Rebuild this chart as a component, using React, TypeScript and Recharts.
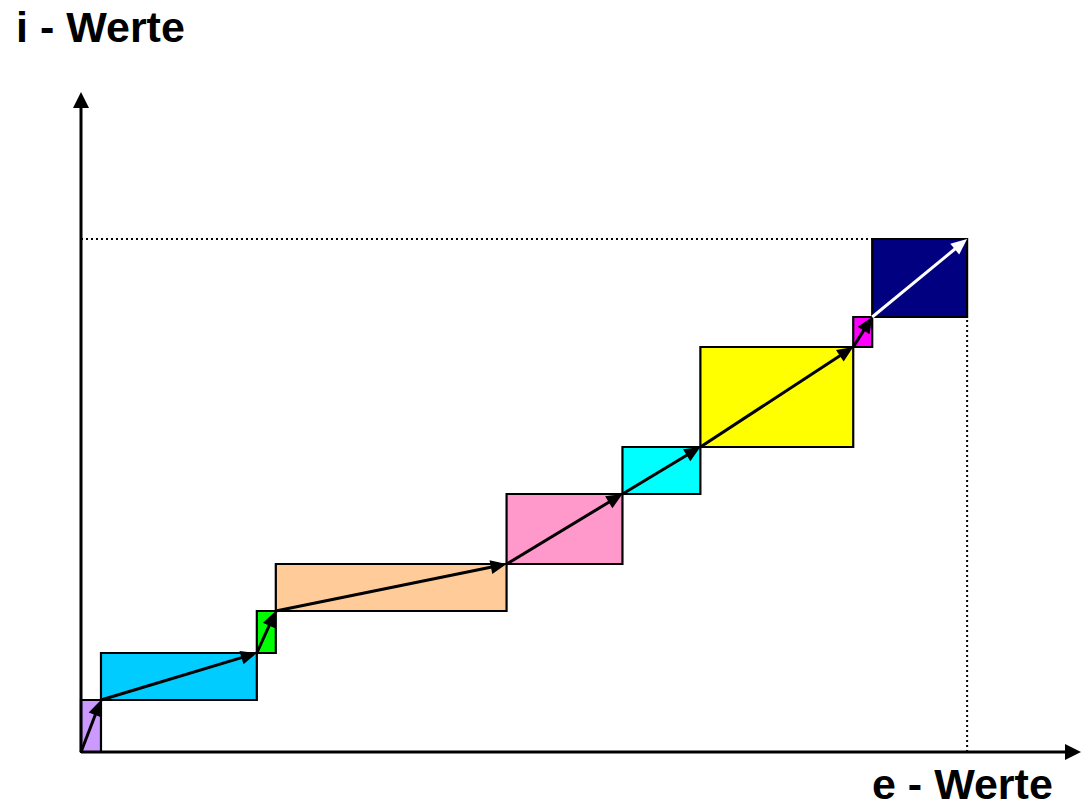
import React from 'react';
import { ComposedChart, XAxis, YAxis, ReferenceArea, ReferenceLine } from 'recharts';

// edges of the staircase boxes along both axes (cumulative)
const eEdges = [0, 20, 176, 195, 426, 542, 620, 773, 792, 887];
const iEdges = [0, 52, 99, 141, 188, 258, 305, 405, 435, 513];
const boxColors = ['#CC99FF', '#00CCFF', '#00FF00', '#FFCC99', '#FF99CC', '#00FFFF', '#FFFF00', '#FF00FF', '#000080'];
const arrowColors = ['#000', '#000', '#000', '#000', '#000', '#000', '#000', '#000', '#FFF'];
const eAxisMax = 1001;
const iAxisMax = 660;
const xLabel = 'e - Werte';
const yLabel = 'i - Werte';

const points = eEdges.map((e, k) => ({ e, i: iEdges[k] }));

const arrowShape = (color: string, width: number, headLen: number, headHalf: number) => (props: any) => {
  const { x1, y1, x2, y2 } = props;
  const dx = x2 - x1;
  const dy = y2 - y1;
  const len = Math.sqrt(dx * dx + dy * dy) || 1;
  const ux = dx / len;
  const uy = dy / len;
  const bx = x2 - ux * headLen;
  const by = y2 - uy * headLen;
  const px = -uy * headHalf;
  const py = ux * headHalf;
  return (
    <g>
      <line x1={x1} y1={y1} x2={bx + ux * 1} y2={by + uy * 1} stroke={color} strokeWidth={width} />
      <polygon points={`${x2},${y2} ${bx + px},${by + py} ${bx - px},${by - py}`} fill={color} />
    </g>
  );
};

const labelStyle: React.CSSProperties = {
  position: 'absolute',
  fontFamily: 'Arial, "Liberation Sans", sans-serif',
  fontWeight: 'bold',
  fontSize: 43,
  lineHeight: 0.9,
  whiteSpace: 'nowrap',
  color: '#000',
};

export default function App() {
  return (
    <div style={{ position: 'absolute', left: 0, top: 0, width: 1085, height: 809, background: '#fff' }}>
      <div style={{ ...labelStyle, left: 16, top: 7.5 }}>{yLabel}</div>
      <div style={{ ...labelStyle, left: 872, top: 765 }}>{xLabel}</div>
      <div style={{ position: 'absolute', left: 0, top: 0 }}>
        <ComposedChart
          width={1085}
          height={809}
          data={points}
          margin={{ top: 92, right: 4, bottom: 57, left: 81 }}
        >
          <XAxis type="number" dataKey="e" domain={[0, eAxisMax]} allowDataOverflow hide />
          <YAxis type="number" dataKey="i" domain={[0, iAxisMax]} allowDataOverflow hide />
          {boxColors.map((c, k) => (
            <ReferenceArea
              key={`box-${k}`}
              x1={eEdges[k]}
              x2={eEdges[k + 1]}
              y1={iEdges[k]}
              y2={iEdges[k + 1]}
              fill={c}
              fillOpacity={1}
              stroke="#000"
              strokeWidth={2.2}
              ifOverflow="visible"
            />
          ))}
          <ReferenceLine
            segment={[{ x: 0, y: iEdges[9] }, { x: eEdges[8], y: iEdges[9] }]}
            stroke="#000"
            strokeWidth={2}
            strokeDasharray="2 3"
            ifOverflow="visible"
          />
          <ReferenceLine
            segment={[{ x: eEdges[9], y: 0 }, { x: eEdges[9], y: iEdges[8] }]}
            stroke="#000"
            strokeWidth={2}
            strokeDasharray="2 3"
            ifOverflow="visible"
          />
          {arrowColors.map((c, k) => (
            <ReferenceLine
              key={`arrow-${k}`}
              segment={[{ x: eEdges[k], y: iEdges[k] }, { x: eEdges[k + 1], y: iEdges[k + 1] }]}
              shape={arrowShape(c, 3, 16, 7)}
              ifOverflow="visible"
            />
          ))}
          <ReferenceLine
            segment={[{ x: 0, y: 0 }, { x: eAxisMax, y: 0 }]}
            shape={arrowShape('#000', 3, 16, 8)}
            ifOverflow="visible"
          />
          <ReferenceLine
            segment={[{ x: 0, y: 0 }, { x: 0, y: iAxisMax }]}
            shape={arrowShape('#000', 3, 16, 8)}
            ifOverflow="visible"
          />
        </ComposedChart>
      </div>
    </div>
  );
}
